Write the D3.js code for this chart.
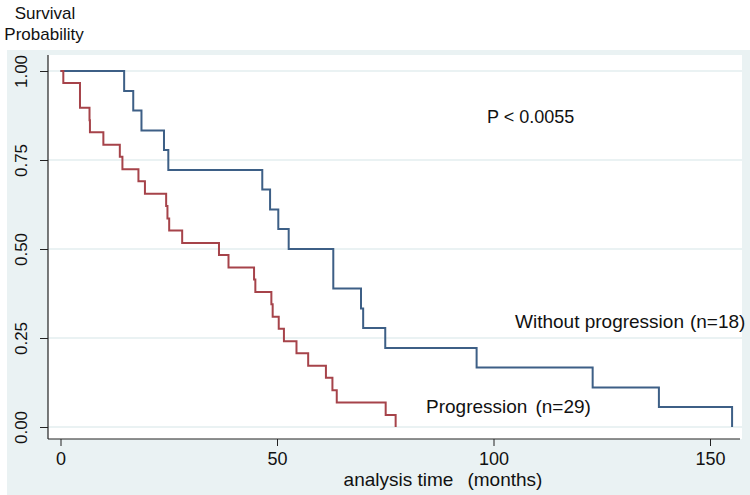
<!DOCTYPE html>
<html>
<head>
<meta charset="utf-8">
<script src="https://cdn.jsdelivr.net/npm/d3@7"></script>
<style>
  body { margin: 0; background: #fff; }
  text { font-family: "Liberation Sans", Arial, sans-serif; fill: #111; }
</style>
</head>
<body>
<div id="chart"></div>
<script>
// Kaplan-Meier steps (time in months, survival after the drop)
var blueTimes = [14.7, 16.8, 18.7, 23.9, 24.9, 46.6, 48.4, 50.3, 52.7, 63.0, 69.4, 69.9, 75.0, 96.1, 122.9, 138.2, 155.1];
var blueSurv = [0.944, 0.889, 0.833, 0.778, 0.722, 0.667, 0.611, 0.556, 0.500, 0.389, 0.333, 0.278, 0.222, 0.167, 0.111, 0.056, 0];

var redTimes = [0.65, 4.5, 6.7, 6.8, 9.9, 13.7, 14.3, 18.0, 19.5, 24.4, 24.7, 25.1, 28.1, 36.6, 38.8, 44.7, 45.0, 48.7, 49.0, 50.4, 51.6, 54.5, 57.2, 61.3, 62.8, 63.8, 75.1, 77.4];
var redSurv = [0.966, 0.897, 0.862, 0.828, 0.793, 0.759, 0.724, 0.690, 0.655, 0.621, 0.586, 0.552, 0.517, 0.483, 0.448, 0.414, 0.379, 0.345, 0.310, 0.276, 0.241, 0.207, 0.172, 0.138, 0.103, 0.069, 0.034, 0];

var xTicks = [0, 50, 100, 150];
var yTicks = [0, 0.25, 0.5, 0.75, 1];

var W = 750, H = 495;
var plot = { left: 48, top: 55, right: 742, bottom: 439 };

var svg = d3.select("#chart").append("svg")
    .attr("width", W)
    .attr("height", H);

// graph region and plot region
svg.append("rect").attr("x", 7).attr("y", 50).attr("width", W - 7).attr("height", H - 50).attr("fill", "#eaf2f3");
svg.append("rect").attr("x", plot.left).attr("y", plot.top)
    .attr("width", plot.right - plot.left).attr("height", plot.bottom - plot.top).attr("fill", "#fff");

var x = d3.scaleLinear().domain([0, 150]).range([60.5, 710]);
var y = d3.scaleLinear().domain([0, 1]).range([427, 71]);

// grid lines
svg.append("g").selectAll("line")
    .data(yTicks)
    .enter()
    .append("line")
    .attr("x1", plot.left).attr("x2", plot.right)
    .attr("y1", function (d) { return y(d); })
    .attr("y2", function (d) { return y(d); })
    .attr("stroke", "#eaf2f3")
    .attr("stroke-width", 2);

// y axis (labels turned on their side)
var yAxis = svg.append("g")
    .attr("transform", "translate(" + plot.left + ",0)")
    .call(d3.axisLeft(y).tickValues(yTicks).tickFormat(d3.format(".2f")).tickSize(8));
yAxis.select(".domain").remove();
yAxis.selectAll("line").attr("stroke", "#222");
yAxis.selectAll("text")
    .attr("transform", "translate(-21,0)rotate(-90)")
    .attr("x", 0).attr("y", 0).attr("dy", 0)
    .style("text-anchor", "middle")
    .style("font-family", "Liberation Sans, Arial, sans-serif")
    .style("font-size", "17px")
    .attr("fill", "#111");

// x axis
var xAxis = svg.append("g")
    .attr("transform", "translate(0," + plot.bottom + ")")
    .call(d3.axisBottom(x).tickValues(xTicks).tickSize(7).tickPadding(6));
xAxis.select(".domain").remove();
xAxis.selectAll("line").attr("stroke", "#222");
xAxis.selectAll("text")
    .style("font-family", "Liberation Sans, Arial, sans-serif")
    .style("font-size", "18px")
    .attr("fill", "#111");

svg.append("line").attr("x1", plot.left).attr("x2", plot.left)
    .attr("y1", plot.top).attr("y2", plot.bottom).attr("stroke", "#222").attr("stroke-width", 1.2);
svg.append("line").attr("x1", plot.left).attr("x2", 740)
    .attr("y1", plot.bottom).attr("y2", plot.bottom).attr("stroke", "#222").attr("stroke-width", 1.2);

// survival curves
var line = d3.line()
    .x(function (d) { return x(d[0]); })
    .y(function (d) { return y(d[1]); })
    .curve(d3.curveStepAfter);

function steps(times, surv) {
    var pts = [[0, 1]];
    times.forEach(function (t, i) { pts.push([t, surv[i]]); });
    return pts;
}

svg.append("path")
    .attr("d", line(steps(blueTimes, blueSurv)))
    .attr("fill", "none")
    .attr("stroke", "#3d5f86")
    .attr("stroke-width", 2);

svg.append("path")
    .attr("d", line(steps(redTimes, redSurv)))
    .attr("fill", "none")
    .attr("stroke", "#a6434a")
    .attr("stroke-width", 2);

// titles and annotations
svg.append("text").attr("x", 45).attr("y", 19).attr("text-anchor", "middle")
    .style("font-size", "17px").text("Survival");
svg.append("text").attr("x", 44).attr("y", 40).attr("text-anchor", "middle")
    .style("font-size", "17px").text("Probability");

svg.append("text").attr("x", 443).attr("y", 486).attr("text-anchor", "middle")
    .style("font-size", "19px")
    .text("analysis time")
    .append("tspan").attr("dx", 14).text("(months)");

svg.append("text").attr("x", 487).attr("y", 123)
    .style("font-size", "18px").text("P < 0.0055");

svg.append("text").attr("x", 515).attr("y", 328)
    .style("font-size", "19px").text("Without progression")
    .append("tspan").attr("dx", 6).text("(n=18)");

svg.append("text").attr("x", 426).attr("y", 413)
    .style("font-size", "19px").text("Progression")
    .append("tspan").attr("dx", 8).text("(n=29)");
</script>
</body>
</html>
